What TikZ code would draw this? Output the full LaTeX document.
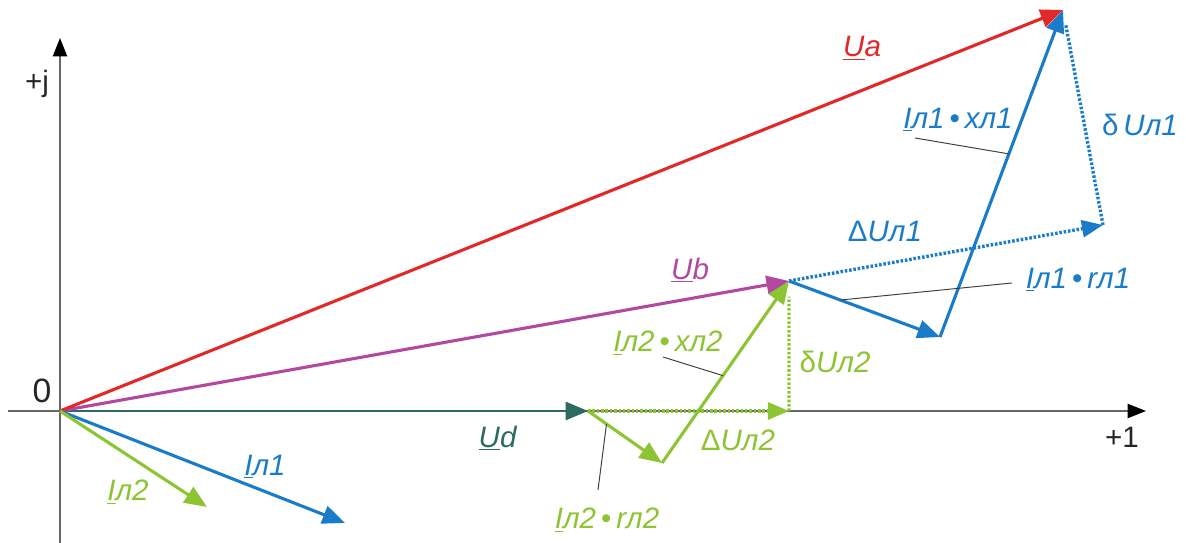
\documentclass[tikz,border=0pt]{standalone}
\usepackage{fontspec}
\setmainfont{Liberation Sans}
\usetikzlibrary{arrows.meta,calc}
\definecolor{ured}{RGB}{226,40,40}
\definecolor{umag}{RGB}{178,72,160}
\definecolor{uteal}{RGB}{44,108,96}
\definecolor{iblue}{RGB}{26,124,200}
\definecolor{igreen}{RGB}{140,196,50}
\tikzset{
  axis/.style={draw=black!60, line width=1.3pt, -{Triangle[length=13pt,width=10pt,fill=black,color=black]}},
  phasor/.style={line width=2.2pt, -{Triangle[length=16pt,width=13pt]}},
  dotvec/.style={line width=2.4pt, dash pattern=on 1.8pt off 1.3pt, -{Triangle[length=15pt,width=12pt]}},
  dotline/.style={line width=2.4pt, dash pattern=on 1.8pt off 1.3pt},
  leader/.style={draw=black!75, line width=0.7pt},
  tag/.style={font=\fontsize{21}{25}\selectfont, inner sep=0pt},
  axtag/.style={font=\fontsize{21}{25}\selectfont, text=black!85, inner sep=0pt}
}
\newcommand{\vI}{\underline{\textit{I}}}
\newcommand{\vU}{\underline{\textit{U}}}
\begin{document}
\begin{tikzpicture}[x=0.025cm,y=-0.025cm]
  \useasboundingbox (0,0) rectangle (1186,543);
  \coordinate (O)  at (60,411);
  \coordinate (Xl) at (8,411);
  \coordinate (Xr) at (1146,411);
  \coordinate (Yb) at (60,543);
  \coordinate (Yt) at (60,38);
  \coordinate (A)  at (1063,10);
  \coordinate (B)  at (789,281);
  \coordinate (C)  at (940,337);
  \coordinate (D)  at (588,411);
  \coordinate (E)  at (1103,225);
  \coordinate (F)  at (662,463);
  \coordinate (G)  at (789,411);
  \coordinate (I1) at (345,523);
  \coordinate (I2) at (207,507);

  \draw[axis] (Xl) -- (Xr);
  \draw[axis] (Yb) -- (Yt);
  \node[axtag] (lj)   at (37,84)   {+j};
  \node[axtag,font=\fontsize{24}{28}\selectfont] (lzero) at (42,391) {0};
  \node[axtag] (lone) at (1122,437) {+1};

  \draw[phasor,uteal,line width=1.6pt] (O) -- (D);
  \draw[phasor,umag]  (O) -- (B);
  \draw[phasor,ured]  (O) -- (A);
  \draw[phasor,iblue] (O) -- (I1);
  \draw[phasor,igreen] (O) -- (I2);

  \draw[dotvec,igreen] (D) -- (G);
  \draw[dotline,igreen] (G) -- ($(B)!0.12!(G)$);
  \draw[phasor,igreen] (D) -- coordinate[pos=0.25] (prn2) (F);
  \draw[phasor,igreen] (F) -- coordinate[pos=0.48] (pxn2) (B);

  \draw[dotvec,iblue] (B) -- (E);
  \draw[dotline,iblue] (E) -- ($(A)!0.07!(E)$);
  \draw[phasor,iblue] (B) -- coordinate[pos=0.34] (prn1) (C);
  \draw[phasor,iblue] (C) -- coordinate[pos=0.56] (pxn1) (A);

  \coordinate (exn1) at (915,138);
  \coordinate (ern1) at (1012,283);
  \coordinate (exn2) at (663,357);
  \coordinate (ern2) at (598,490);
  \draw[leader] (exn1) -- (pxn1);
  \draw[leader] (ern1) -- (prn1);
  \draw[leader] (exn2) -- (pxn2);
  \draw[leader] (ern2) -- (prn2);

  \node[tag,text=ured]  (lUa) at (862,48)  {\vU\textit{a}};
  \node[tag,text=umag]  (lUb) at (690,270) {\vU\textit{b}};
  \node[tag,text=uteal] (lUd) at (498,438) {\vU\textit{d}};
  \node[tag,text=iblue] (lI1) at (265,467) {\vI\textit{л1}};
  \node[tag,text=igreen] (lI2) at (128,492) {\vI\textit{л2}};
  \node[tag,text=iblue] (ldU1) at (885,231) {Δ\textit{Uл1}};
  \node[tag,text=iblue] (lsU1) at (1140,125) {δ\,\textit{Uл1}};
  \node[tag,text=iblue] (lxn1) at (958,120) {\vI\textit{л1}\,•\,\textit{xл1}};
  \node[tag,text=iblue] (lrn1) at (1078,280) {\vI\textit{л1}\,•\,\textit{rл1}};
  \node[tag,text=igreen] (lxn2) at (668,343) {\vI\textit{л2}\,•\,\textit{xл2}};
  \node[tag,text=igreen] (lrn2) at (607,520) {\vI\textit{л2}\,•\,\textit{rл2}};
  \node[tag,text=igreen] (lsU2) at (835,362) {δ\textit{Uл2}};
  \node[tag,text=igreen] (ldU2) at (738,440) {Δ\textit{Uл2}};
\end{tikzpicture}
\end{document}
